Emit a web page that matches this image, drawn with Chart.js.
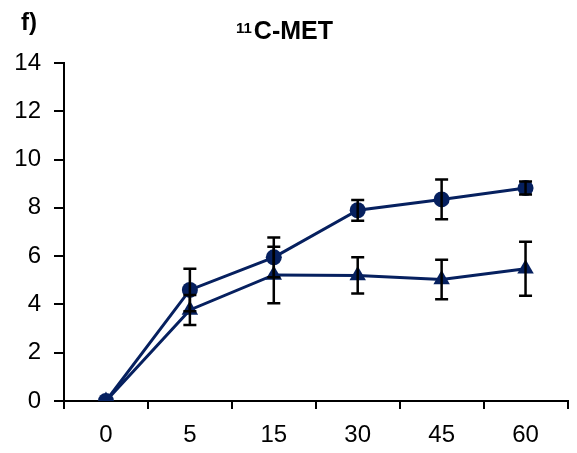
<!DOCTYPE html>
<html>
<head>
<meta charset="utf-8">
<script src="https://cdn.jsdelivr.net/npm/chart.js@4"></script>
<style>
  html, body { margin: 0; padding: 0; background: #fff; }
  #wrap { width: 577px; height: 453px; position: relative; }
</style>
</head>
<body>
<div id="wrap"><canvas id="chart"></canvas></div>
<script>
// Data
const timeLabels = ['0', '5', '15', '30', '45', '60'];
const circleValues = [0, 4.6, 5.95, 7.9, 8.35, 8.82];
const circleErrors = [0, 0.88, 0.82, 0.43, 0.82, 0.27];
const triangleValues = [0, 3.77, 5.22, 5.2, 5.03, 5.48];
const triangleErrors = [0, 0.62, 1.17, 0.75, 0.82, 1.12];
const yTicks = [0, 2, 4, 6, 8, 10, 12, 14];

const navy = '#06205f';
const font = 'Arial, "Liberation Sans", sans-serif';

// Error bars drawn through the scales, on top of markers
const errorBars = {
    id: 'errorBars',
    afterDatasetsDraw(chart) {
        const ctx = chart.ctx;
        const x = chart.scales.x, y = chart.scales.y;
        ctx.save();
        ctx.strokeStyle = '#000';
        ctx.lineWidth = 2.5;
        chart.data.datasets.forEach(ds => {
            ds.data.forEach((v, i) => {
                const e = ds.errors[i];
                if (!e) return;
                const px = x.getPixelForValue(i);
                const top = y.getPixelForValue(v + e);
                const bot = y.getPixelForValue(v - e);
                ctx.beginPath();
                ctx.moveTo(px, top); ctx.lineTo(px, bot);
                ctx.moveTo(px - 6.5, top); ctx.lineTo(px + 6.5, top);
                ctx.moveTo(px - 6.5, bot); ctx.lineTo(px + 6.5, bot);
                ctx.stroke();
            });
        });
        ctx.restore();
    }
};

// Panel letter and title with superscript
const headings = {
    id: 'headings',
    afterDraw(chart) {
        const ctx = chart.ctx;
        ctx.save();
        ctx.fillStyle = '#000';
        ctx.textBaseline = 'alphabetic';
        ctx.font = 'bold 24px ' + font;
        ctx.fillText('f)', 21, 30);
        ctx.font = 'bold 15px ' + font;
        const supW = ctx.measureText('11').width;
        ctx.fillText('11', 236, 33);
        ctx.font = 'bold 25px ' + font;
        ctx.fillText('C-MET', 238 + supW, 39);
        ctx.restore();
    }
};

new Chart(document.getElementById('chart'), {
    type: 'line',
    data: {
        labels: timeLabels,
        datasets: [
            {
                data: circleValues,
                errors: circleErrors,
                borderColor: navy,
                backgroundColor: navy,
                borderWidth: 3,
                pointStyle: 'circle',
                pointRadius: 8,
                pointBorderWidth: 0,
                tension: 0
            },
            {
                data: triangleValues,
                errors: triangleErrors,
                borderColor: navy,
                backgroundColor: navy,
                borderWidth: 3,
                pointStyle: 'triangle',
                pointRadius: 9.5,
                pointBorderWidth: 0,
                tension: 0
            }
        ]
    },
    options: {
        responsive: true,
        maintainAspectRatio: false,
        animation: false,
        layout: { padding: { top: 63, right: 4, left: 0, bottom: 0 } },
        plugins: { legend: { display: false }, tooltip: { enabled: false } },
        scales: {
            x: {
                offset: true,
                grid: { offset: true, drawOnChartArea: false, tickLength: 8, color: '#000', lineWidth: 2 },
                border: { color: '#000', width: 2 },
                ticks: { color: '#000', padding: 12, font: { family: font, size: 24 }, maxRotation: 0 },
                afterFit(s) { s.height = 52; }
            },
            y: {
                min: 0,
                max: 14,
                afterBuildTicks(s) { s.ticks = yTicks.map(v => ({ value: v })); },
                grid: { drawOnChartArea: false, tickLength: 10, color: '#000', lineWidth: 2 },
                border: { color: '#000', width: 2 },
                ticks: { color: '#000', padding: 13, font: { family: font, size: 24 } },
                afterFit(s) { s.width = 64; }
            }
        }
    },
    plugins: [errorBars, headings]
});
</script>
</body>
</html>
